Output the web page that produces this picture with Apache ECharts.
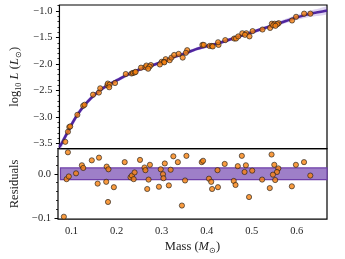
<!DOCTYPE html>
<html><head><meta charset="utf-8">
<script src="https://cdn.jsdelivr.net/npm/echarts@6/dist/echarts.min.js"></script>
<style>html,body{margin:0;padding:0;background:#fff}#c{width:345px;height:259px}</style>
</head><body><div id="c"></div>
<script>
// ---- data ----
const masses = [0.083,0.089,0.092,0.094,0.110,0.123,0.126,0.145,0.158,0.161,0.177,0.178,0.182,0.181,0.194,0.218,0.231,0.234,0.238,0.240,0.252,0.262,0.264,0.274,0.271,0.268,0.298,0.307,0.303,0.304,0.294,0.316,0.320,0.326,0.336,0.355,0.352,0.345,0.389,0.392,0.405,0.410,0.412,0.425,0.424,0.440,0.460,0.464,0.469,0.478,0.487,0.484,0.494,0.501,0.523,0.540,0.544,0.550,0.559,0.556,0.547,0.552,0.589,0.598,0.616,0.630];
const logL = [-3.47,-3.28,-3.19,-3.18,-2.96,-2.79,-2.77,-2.58,-2.54,-2.46,-2.40,-2.37,-2.39,-2.44,-2.36,-2.19,-2.18,-2.17,-2.16,-2.15,-2.07,-2.06,-2.03,-2.02,-2.05,-2.09,-1.96,-1.91,-1.96,-1.97,-2.01,-1.93,-1.88,-1.83,-1.81,-1.74,-1.79,-1.88,-1.64,-1.64,-1.66,-1.66,-1.67,-1.64,-1.59,-1.55,-1.52,-1.52,-1.48,-1.42,-1.42,-1.45,-1.48,-1.38,-1.35,-1.32,-1.24,-1.24,-1.23,-1.25,-1.27,-1.28,-1.18,-1.11,-1.05,-1.05];
const resid = [-0.096,-0.012,0.048,-0.006,0.001,0.019,0.013,0.030,-0.022,0.036,-0.018,0.016,0.010,-0.063,-0.030,0.026,-0.008,-0.004,-0.012,0.003,0.031,0.014,0.008,0.020,-0.013,-0.034,0.010,0.023,-0.001,-0.010,-0.029,-0.026,0.009,0.039,0.026,0.040,-0.015,-0.071,0.026,0.029,-0.011,-0.018,-0.034,-0.030,0.008,0.022,-0.016,-0.025,0.017,0.040,0.019,0.004,-0.052,0.007,-0.013,-0.032,0.043,0.020,0.012,0.004,-0.002,-0.014,-0.028,0.020,0.026,-0.004];

const fitMass  = [0.070,0.075,0.080,0.090,0.100,0.110,0.125,0.140,0.160,0.180,0.200,0.220,0.250,0.275,0.300,0.325,0.350,0.375,0.400,0.425,0.450,0.475,0.500,0.525,0.550,0.575,0.600,0.625,0.650,0.667];
const fitLogL  = [-3.57,-3.50,-3.42,-3.26,-3.10,-2.96,-2.79,-2.65,-2.50,-2.39,-2.30,-2.21,-2.10,-2.03,-1.96,-1.87,-1.80,-1.72,-1.66,-1.61,-1.54,-1.47,-1.40,-1.33,-1.26,-1.19,-1.12,-1.06,-1.02,-0.99];
const fitUpper = [-3.54,-3.48,-3.41,-3.26,-3.10,-2.96,-2.79,-2.65,-2.50,-2.39,-2.30,-2.21,-2.10,-2.03,-1.96,-1.87,-1.80,-1.72,-1.66,-1.61,-1.54,-1.47,-1.40,-1.33,-1.255,-1.18,-1.10,-1.03,-0.98,-0.94];
const fitLower = [-3.60,-3.52,-3.43,-3.26,-3.10,-2.96,-2.79,-2.65,-2.50,-2.39,-2.30,-2.21,-2.10,-2.03,-1.96,-1.87,-1.80,-1.72,-1.66,-1.61,-1.54,-1.47,-1.40,-1.33,-1.265,-1.20,-1.14,-1.09,-1.06,-1.04];

const bandStart = 0.0755, bandEnd = 0.667, bandLow = -0.013, bandHigh = 0.013;

const xTicks = [0.1,0.2,0.3,0.4,0.5,0.6];
const xMinor = [0.08,0.10,0.12,0.14,0.16,0.18,0.20,0.22,0.24,0.26,0.28,0.30,0.32,0.34,0.36,0.38,0.40,0.42,0.44,0.46,0.48,0.50,0.52,0.54,0.56,0.58,0.60,0.62,0.64,0.66];
const yTicks = [-3.5,-3.0,-2.5,-2.0,-1.5,-1.0];
const yMinor = [-3.6,-3.5,-3.4,-3.3,-3.2,-3.1,-3.0,-2.9,-2.8,-2.7,-2.6,-2.5,-2.4,-2.3,-2.2,-2.1,-2.0,-1.9,-1.8,-1.7,-1.6,-1.5,-1.4,-1.3,-1.2,-1.1,-1.0,-0.9];
const rTicks = [-0.1,0.0];
const rMinor = [-0.10,-0.08,-0.06,-0.04,-0.02,0.00,0.02,0.04];

const xMin = 0.07, xMax = 0.667, yMin = -3.6, yMax = -0.887, rMin = -0.1015, rMax = 0.056;

// ---- chart ----
const zip = (a,b) => a.map((v,i)=>[v,b[i]]);
const fmt = v => (v < -1e-9 ? '\u2212' : '') + Math.abs(v).toFixed(1);
const FONT = 'Liberation Serif';
const lab = {fontFamily: FONT, fontSize: 10.5, color: '#222'};
const nameRich = {
  a: {fontFamily: FONT, fontSize: 12.5, color: '#222', lineHeight: 16},
  i: {fontFamily: FONT, fontSize: 12.5, fontStyle: 'italic', color: '#222', lineHeight: 16},
  s: {fontFamily: FONT, fontSize: 8, color: '#222', verticalAlign: 'bottom', lineHeight: 16}
};
const ORANGE = '#f7820f';
const chart = echarts.init(document.getElementById('c'), null, {renderer: 'canvas'});
const grids = [
  {left: 58, right: 18, top: 5, height: 143.7, show: true, borderColor: '#000', borderWidth: 1.2, backgroundColor: 'transparent'},
  {left: 58, right: 18, top: 148.7, height: 70.5, show: true, borderColor: '#000', borderWidth: 1.2, backgroundColor: 'transparent'}
];
const noLine = {show: false};
chart.setOption({
  animation: false,
  grid: grids,
  xAxis: [
    {type: 'value', gridIndex: 0, min: xMin, max: xMax, axisLine: noLine, axisTick: {show: false}, axisLabel: {show: false}, splitLine: {show: false}},
    {type: 'value', gridIndex: 1, position: 'bottom', min: xMin, max: xMax, axisLine: noLine, splitLine: {show: false},
     axisTick: {show: true, customValues: xTicks, length: 3.5, lineStyle: {color: '#000', width: 1}},
     axisLabel: Object.assign({customValues: xTicks, margin: 7, formatter: fmt}, lab),
     name: '{a|Mass (}{i|M}{s|\u2299}{a|)}', nameLocation: 'middle', nameGap: 20, nameTextStyle: {rich: nameRich}},
    {type: 'value', gridIndex: 1, position: 'bottom', offset: 0, min: xMin, max: xMax, axisLine: noLine, splitLine: {show: false}, axisLabel: {show: false},
     axisTick: {show: true, customValues: xMinor, length: 2, lineStyle: {color: '#000', width: 0.8}}}
  ],
  yAxis: [
    {type: 'value', gridIndex: 0, position: 'left', min: yMin, max: yMax, axisLine: noLine, splitLine: {show: false},
     axisTick: {show: true, customValues: yTicks, length: 3.5, lineStyle: {color: '#000', width: 1}},
     axisLabel: Object.assign({customValues: yTicks, margin: 7, formatter: fmt}, lab),
     name: '{a|log}{s|10} {i|L} {a|(}{i|L}{s|\u2299}{a|)}', nameLocation: 'middle', nameGap: 36, nameTextStyle: {rich: nameRich}},
    {type: 'value', gridIndex: 0, position: 'left', offset: 0, min: yMin, max: yMax, axisLine: noLine, splitLine: {show: false}, axisLabel: {show: false},
     axisTick: {show: true, customValues: yMinor, length: 2, lineStyle: {color: '#000', width: 0.8}}},
    {type: 'value', gridIndex: 1, position: 'left', min: rMin, max: rMax, axisLine: noLine, splitLine: {show: false},
     axisTick: {show: true, customValues: rTicks, length: 3.5, lineStyle: {color: '#000', width: 1}},
     axisLabel: Object.assign({customValues: rTicks, margin: 7, formatter: fmt}, lab),
     name: 'Residuals', nameLocation: 'middle', nameGap: 36, nameTextStyle: {fontFamily: FONT, fontSize: 12.5, color: '#222'}},
    {type: 'value', gridIndex: 1, position: 'left', offset: 0, min: rMin, max: rMax, axisLine: noLine, splitLine: {show: false}, axisLabel: {show: false},
     axisTick: {show: true, customValues: rMinor, length: 2, lineStyle: {color: '#000', width: 0.8}}}
  ],
  series: [
    {type: 'line', xAxisIndex: 0, yAxisIndex: 0, data: zip(fitMass, fitUpper), smooth: 0.3, symbol: 'none',
     lineStyle: {color: '#7b55c8', width: 3, opacity: 0.25}, z: 1},
    {type: 'line', xAxisIndex: 0, yAxisIndex: 0, data: zip(fitMass, fitLower), smooth: 0.3, symbol: 'none',
     lineStyle: {color: '#7b55c8', width: 3, opacity: 0.25}, z: 1},
    {type: 'line', xAxisIndex: 0, yAxisIndex: 0, data: zip(fitMass, fitLogL), smooth: 0.3, symbol: 'none',
     lineStyle: {color: '#4a1f9c', width: 2.6, opacity: 0.95}, z: 2},
    {type: 'scatter', xAxisIndex: 0, yAxisIndex: 0, data: zip(masses, logL), symbolSize: 5.2,
     itemStyle: {color: ORANGE, borderColor: '#1a1a1a', borderWidth: 0.8}, z: 5},
    {type: 'scatter', xAxisIndex: 1, yAxisIndex: 2, data: zip(masses, resid), symbolSize: 5.2,
     itemStyle: {color: ORANGE, borderColor: '#1a1a1a', borderWidth: 0.8}, z: 5,
     markArea: {silent: true, z: 1, itemStyle: {color: '#9e7fc8', borderColor: '#6e3fa8', borderWidth: 1.2},
       data: [[{coord: [bandStart, bandHigh]}, {coord: [bandEnd, bandLow]}]]}}
  ]
});
</script></body></html>
